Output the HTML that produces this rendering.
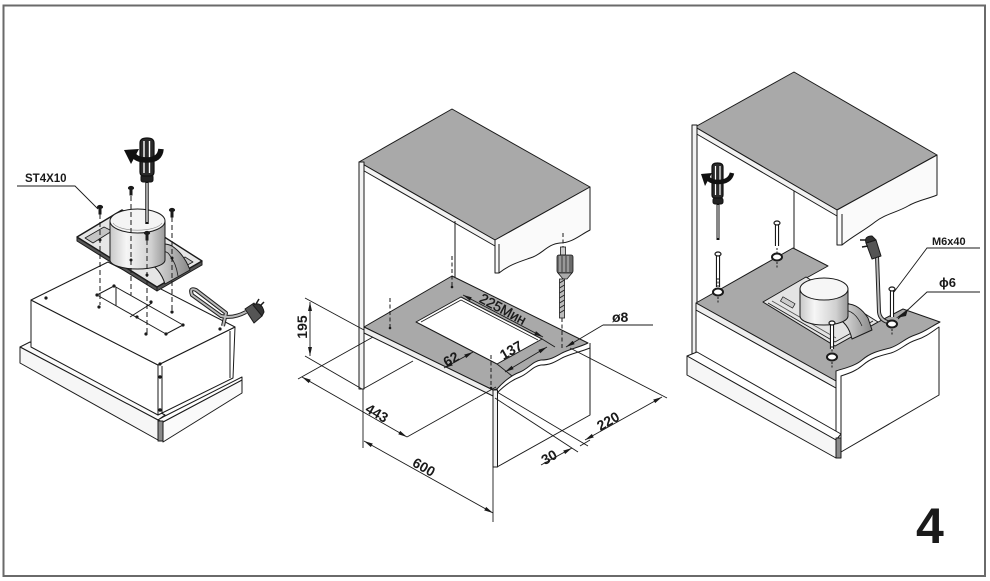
<!DOCTYPE html>
<html><head><meta charset="utf-8"><style>
html,body{margin:0;padding:0;background:#fff;}
svg{display:block;}
text{font-family:"Liberation Sans",Arial,sans-serif;fill:#1a1a1a;}
</style></head><body>
<svg width="990" height="581" viewBox="0 0 990 581" xmlns="http://www.w3.org/2000/svg">
<defs>
<marker id="ar" viewBox="0 0 10 10" refX="10" refY="5" markerWidth="9" markerHeight="9" orient="auto-start-reverse" markerUnits="userSpaceOnUse"><path d="M0,2.8 L10,5 L0,7.2 z" fill="#1a1a1a"/></marker>
<linearGradient id="cyl" x1="0" x2="1" y1="0" y2="0"><stop offset="0" stop-color="#c8c8c8"/><stop offset="0.3" stop-color="#f6f6f6"/><stop offset="0.75" stop-color="#d0d0d0"/><stop offset="1" stop-color="#9a9a9a"/></linearGradient>
<linearGradient id="chute" x1="0" x2="1"><stop offset="0" stop-color="#eee"/><stop offset="1" stop-color="#888"/></linearGradient>
</defs>
<rect x="3.5" y="5.5" width="981.5" height="570.5" fill="none" stroke="#6a6a6a" stroke-width="2"/>

<!-- ================= LEFT DIAGRAM ================= -->
<g stroke="#1a1a1a" stroke-width="1" stroke-linejoin="round" fill="none">
  <!-- trim -->
  <polygon points="20,347 30,342 165,415 158,420" fill="#fafafa"/>
  <polygon points="20,347 158,420 158,440 20,363" fill="#f6f6f6"/>
  <polygon points="163,422 242,380 242,393 163,442" fill="#fafafa"/>
  <polygon points="158,420 165,416 242,377 242,380 163,422" fill="#fff"/>
  <rect x="158" y="421" width="5" height="20" fill="#8a8a8a"/>
  <!-- box -->
  <polygon points="31,300 158,365 158,415 31,347" fill="#fff"/>
  <polygon points="158,365 235,327 233,378 158,415" fill="#fff"/>
  <polygon points="31,300 108,262 235,327 158,365" fill="#fff"/>
  <line x1="162" y1="366" x2="162" y2="414"/>
  <line x1="230" y1="331" x2="230" y2="378"/>
  <circle cx="160" cy="377" r="1.2" fill="#1a1a1a"/>
  <circle cx="160" cy="410" r="1.2" fill="#1a1a1a"/>
  <!-- cutout on top -->
  <polygon points="97,295 114,286 183,325 166,334"/>
  <line x1="116" y1="287" x2="116" y2="306"/>
  <line x1="130" y1="317" x2="152" y2="303"/>
  <!-- cord -->
  <path d="M223,326 L226,313 L196,290 Q189,287 192,295 L221,316 Q233,319 246,312" stroke="#222" stroke-width="4"/>
  <path d="M223,326 L226,313 L196,290 Q189,287 192,295 L221,316 Q233,319 246,312" stroke="#bbb" stroke-width="2"/>
  <!-- plug -->
  <polygon points="245,309 254,303 262,316 254,323" fill="#555"/>
  <path d="M253,305 Q262,301 264,312 L262,316 Z" fill="#333"/>
  <line x1="256" y1="304" x2="259" y2="299" stroke-width="1.5"/>
  <line x1="260" y1="306" x2="264" y2="302" stroke-width="1.5"/>
  <!-- bracket plate -->
  <polygon points="77,237 157,287 157,291 77,241" fill="#555"/>
  <polygon points="157,287 202,261 202,265 157,291" fill="#555"/>
  <polygon points="77,237 122,210 202,261 157,287" fill="#e6e6e6" stroke-width="1.4"/>
  <polygon points="85,238 104,227 112,231 93,243" fill="#c4c4c4" stroke-width="0.8"/>
  <polygon points="165,268 185,257 193,262 173,273" fill="#c4c4c4" stroke-width="0.8"/>
  <!-- chute -->
  <path d="M147,252 Q160,240 172,246 Q184,254 190,270 L165,284 Q160,268 147,262 Z" fill="url(#chute)"/>
  <path d="M150,256 Q160,248 168,253 Q176,262 178,276" stroke-width="0.8"/>
  <!-- cylinder -->
  <path d="M110,221 L110,260 A27.5,9 0 0 0 165,260 L165,221 Z" fill="url(#cyl)"/>
  <ellipse cx="137.5" cy="221" rx="27.5" ry="12" fill="#f4f4f4"/>
  <path d="M113,223 A25,9 0 0 0 162,223" stroke-width="0.6" stroke="#888"/>
</g>
<!-- dots left -->
<g fill="#1a1a1a">
  <circle cx="46" cy="298" r="1.6"/><circle cx="220" cy="329" r="1.6"/><circle cx="160" cy="364" r="1.6"/>
  <circle cx="99" cy="307" r="1.6"/><circle cx="114" cy="286" r="1.6"/><circle cx="97" cy="295" r="1.6"/>
  <circle cx="137" cy="317" r="1.6"/><circle cx="151" cy="302" r="1.6"/><circle cx="172" cy="312" r="1.6"/>
  <circle cx="183" cy="325" r="1.6"/><circle cx="166" cy="334" r="1.6"/><circle cx="146" cy="334" r="1.6"/>
  <circle cx="100" cy="240" r="1.5"/><circle cx="131" cy="260" r="1.5"/><circle cx="147" cy="275" r="1.5"/><circle cx="172" cy="258" r="1.5"/>
</g>
<g stroke="#1a1a1a" stroke-width="1" stroke-dasharray="5,3" fill="none">
  <line x1="100" y1="214" x2="100" y2="305"/>
  <line x1="131" y1="196" x2="131" y2="295"/>
  <line x1="147" y1="240" x2="147" y2="333"/>
  <line x1="172" y1="217" x2="172" y2="312"/>
</g>
<!-- screws left -->
<g fill="#1a1a1a" stroke="#1a1a1a">
  <ellipse cx="100" cy="207" rx="2.6" ry="1.6"/><rect x="99" y="207" width="2" height="7"/>
  <ellipse cx="131" cy="188" rx="2.6" ry="1.6"/><rect x="130" y="188" width="2" height="7"/>
  <ellipse cx="172" cy="210" rx="2.6" ry="1.6"/><rect x="171" y="210" width="2" height="7"/>
  <ellipse cx="147" cy="233" rx="2.6" ry="1.6"/><rect x="146" y="233" width="2" height="7"/>
</g>
<!-- screwdriver left -->
<g stroke="#111" stroke-linejoin="round">
  <line x1="147" y1="182" x2="147" y2="224" stroke-width="3.4"/>
  <line x1="147" y1="183" x2="147" y2="222" stroke="#fff" stroke-width="1.2"/>
  <rect x="141" y="175" width="12" height="7" rx="2" fill="#222"/>
  <path d="M140,143 Q140,138 147,138 Q154,138 154,143 L154,172 Q154,176 150,176 L144,176 Q140,176 140,172 Z" fill="#2a2a2a" stroke-width="1.2"/>
  <line x1="144" y1="141" x2="144" y2="173" stroke="#fff" stroke-width="1.4"/>
  <line x1="149.5" y1="141" x2="149.5" y2="173" stroke="#fff" stroke-width="1.4"/>
  <path d="M161,149 Q160,160 147,160 Q136,160 133,154" fill="none" stroke="#111" stroke-width="5.5"/>
  <polygon points="124,150 139,149 131,164" fill="#111" stroke="none"/>
</g>
<!-- ST4X10 -->
<text x="25" y="182" font-size="11.5" font-weight="bold">ST4X10</text>
<polyline points="17,186 75,186 98,209" fill="none" stroke="#1a1a1a" stroke-width="0.9"/>

<!-- ================= MIDDLE DIAGRAM ================= -->
<g stroke="#1a1a1a" stroke-width="1" stroke-linejoin="round" fill="none">
  <!-- top panel -->
  <polygon points="359,162 452,109 590,187 495,240" fill="#a9a9a9"/>
  <polygon points="359,162 495,240 495,246 359,168" fill="#f2f2f2"/>
  <path d="M495,240 L590,187 L590,230 C580,235 572,243 560,243 C548,244 543,253 533,257 C522,261 510,264 499,273 L495,273 Z" fill="#fafafa"/>
  <line x1="499" y1="244" x2="499" y2="273"/>
  <!-- left panel -->
  <rect x="359" y="162" width="5" height="227" fill="#f2f2f2"/>
  <line x1="455" y1="221" x2="455" y2="277"/>
  <!-- lower right face -->
  <path d="M497,393 C505,385 512,380 520,377 C528,374 533,366 541,365 C550,365 555,362 562,358 C570,354 580,352 590,348 L590,415 L497,467 Z" fill="#fff"/>
  <!-- shelf -->
  <path d="M364,327 L452,276 L588,343 C580,347 570,349 562,353 C555,357 550,360 541,360 C533,361 528,369 520,372 C512,375 505,380 497,389 L493,390 Z" fill="#a9a9a9"/>
  <polygon points="364,327 493,390 493,396 364,333" fill="#eee"/>
  <rect x="493" y="390" width="4.5" height="77" fill="#f2f2f2"/>
  <line x1="590" y1="343" x2="590" y2="349"/>
  <!-- cutout -->
  <polygon points="416,322 461,297 542,339 497,364" fill="#fff"/>
  <polyline points="421,322 461,300 538,340" stroke-width="0.8"/>
</g>
<!-- dashed -->
<g stroke="#1a1a1a" stroke-width="1" stroke-dasharray="4,2.5" fill="none">
  <line x1="390" y1="298" x2="390" y2="327"/>
  <line x1="452" y1="256" x2="452" y2="286"/>
  <line x1="491" y1="355" x2="491" y2="388"/>
  <line x1="562" y1="318" x2="562" y2="348"/>
  <line x1="563" y1="233" x2="563" y2="249"/>
</g>
<g fill="#1a1a1a"><circle cx="390" cy="328" r="1.3"/><circle cx="452" cy="287" r="1.3"/><circle cx="491" cy="388" r="1.3"/></g>
<!-- dimension lines -->
<g stroke="#1a1a1a" stroke-width="0.9" fill="none">
  <line x1="310" y1="302" x2="310" y2="356" marker-start="url(#ar)" marker-end="url(#ar)"/>
  <line x1="305" y1="298" x2="364" y2="330"/>
  <line x1="305" y1="356" x2="362" y2="389"/>
  <line x1="298" y1="379" x2="373" y2="337"/>
  <line x1="363" y1="389" x2="413" y2="361"/>
  <line x1="302" y1="377" x2="407" y2="437" marker-start="url(#ar)" marker-end="url(#ar)"/>
  <line x1="407" y1="437" x2="496" y2="387"/>
  <line x1="363" y1="389" x2="363" y2="448"/>
  <line x1="364" y1="441" x2="493" y2="513" marker-start="url(#ar)" marker-end="url(#ar)"/>
  <line x1="493" y1="467" x2="493" y2="522"/>
  <line x1="497" y1="392" x2="588" y2="446"/>
  <line x1="495" y1="398" x2="578" y2="452"/>
  <line x1="570" y1="348" x2="667" y2="398"/>
  <line x1="585" y1="440" x2="662" y2="397" marker-start="url(#ar)" marker-end="url(#ar)"/>
  <line x1="541" y1="465" x2="572" y2="448" marker-end="url(#ar)"/>
  <line x1="590" y1="440" x2="580" y2="446"/>
  <line x1="463" y1="295" x2="543" y2="337" marker-start="url(#ar)" marker-end="url(#ar)"/>
  <line x1="542" y1="339" x2="555" y2="347"/>
  <line x1="497" y1="364" x2="512" y2="376"/>
  <line x1="505" y1="372" x2="547" y2="347" marker-start="url(#ar)" marker-end="url(#ar)"/>
  <line x1="444" y1="368" x2="473" y2="352" marker-start="url(#ar)" marker-end="url(#ar)"/>
  <polyline points="653,325 603,325"/>
  <line x1="603" y1="325" x2="566" y2="347" marker-end="url(#ar)"/>
</g>
<!-- drill -->
<g stroke="#1a1a1a" stroke-width="0.8">
  <rect x="560.5" y="247" width="5" height="8" fill="#ccc"/>
  <rect x="557" y="255" width="16" height="18" rx="2" fill="#6a6a6a"/>
  <line x1="560" y1="256" x2="560" y2="272" stroke="#ddd"/>
  <line x1="564" y1="256" x2="564" y2="272" stroke="#ddd"/>
  <line x1="568" y1="256" x2="568" y2="272" stroke="#ddd"/>
  <polygon points="558,273 572,273 567,279 563,279" fill="#aaa"/>
  <rect x="559.5" y="279" width="5" height="39" fill="#bbb"/>
  <path d="M559.5,283 L564.5,280 M559.5,288 L564.5,285 M559.5,293 L564.5,290 M559.5,298 L564.5,295 M559.5,303 L564.5,300 M559.5,308 L564.5,305 M559.5,313 L564.5,310" stroke="#222" stroke-width="1"/>
</g>
<!-- middle texts -->
<text x="307" y="327" transform="rotate(-90 307 327)" text-anchor="middle" font-size="14" font-weight="bold">195</text>
<text transform="translate(377,413) rotate(30)" x="0" y="5" text-anchor="middle" font-size="14" font-weight="bold">443</text>
<text transform="translate(424,467) rotate(30)" x="0" y="5" text-anchor="middle" font-size="14" font-weight="bold">600</text>
<text transform="translate(503,309) rotate(28)" x="0" y="5" text-anchor="middle" font-size="14" stroke="#1a1a1a" stroke-width="0.35">225Мин</text>
<text transform="translate(451,359) rotate(-30)" x="0" y="5" text-anchor="middle" font-size="14" font-weight="bold">62</text>
<text transform="translate(511,350) rotate(-30)" x="0" y="5" text-anchor="middle" font-size="14" font-weight="bold">137</text>
<text transform="translate(549,457) rotate(-30)" x="0" y="5" text-anchor="middle" font-size="14" font-weight="bold">30</text>
<text transform="translate(608,421) rotate(-30)" x="0" y="5" text-anchor="middle" font-size="14" font-weight="bold">220</text>
<text x="612" y="322" font-size="14" font-weight="bold">ø8</text>

<!-- ================= RIGHT DIAGRAM ================= -->
<g stroke="#1a1a1a" stroke-width="1" stroke-linejoin="round" fill="none">
  <!-- top panel -->
  <polygon points="695,127 794,72 937,155 837,210" fill="#a9a9a9"/>
  <polygon points="695,127 837,210 837,216 695,133" fill="#f2f2f2"/>
  <path d="M837,210 L937,155 L937,195 C928,199 918,200 908,206 C898,212 885,214 875,222 C865,230 853,236 842,245 L837,245 Z" fill="#fafafa"/>
  <line x1="842" y1="214" x2="842" y2="245"/>
  <!-- left panel -->
  <rect x="692" y="125" width="5" height="230" fill="#f2f2f2"/>
  <line x1="794" y1="191" x2="794" y2="249"/>
  <!-- lower front face -->
  <polygon points="696,310 836,388 836,436 696,355" fill="#fff"/>
  <!-- lower right face -->
  <path d="M841,376 C850,373 856,371 863,365 C871,358 879,356 891,353 C901,350 906,343 916,340 C926,337 933,331 939,327 L939,395 L841,452 Z" fill="#fff"/>
  <line x1="836" y1="372" x2="836" y2="452"/>
  <line x1="841" y1="376" x2="841" y2="452"/>
  <!-- trim -->
  <polygon points="687,356 697,352 841,434 836,440" fill="#fff"/>
  <polygon points="687,356 836,440 836,458 687,375" fill="#f6f6f6"/>
  <rect x="836" y="438" width="5" height="20" fill="#8a8a8a"/>
  <!-- shelf -->
  <path d="M696,303 L793,248 L828,266 L763,302 L835,346 L880,321 L903,309 L940,322 C932,326 925,332 915,335 C905,338 900,345 890,348 C878,351 870,353 862,360 C855,366 845,368 836,371 L836,381 Z" fill="#a9a9a9"/>
  <polygon points="696,303 836,381 836,388 696,310" fill="#eee"/>
  <!-- cutout interior -->
  <polygon points="763,302 806,277 878,322 835,346" fill="#e4e4e4"/>
  <polyline points="768,303 835,342 873,321" stroke-width="0.8"/>
  <polyline points="772,301 836,338" stroke-width="0.8" stroke="#555"/>
  <rect x="781" y="300" width="14" height="5" transform="rotate(30 788 302)" fill="#ccc" stroke-width="0.7"/>
  <!-- chute -->
  <path d="M840,305 Q856,300 868,318 L872,330 L852,339 Q848,322 836,318 Z" fill="url(#chute)"/>
  <path d="M843,310 Q855,310 862,326" stroke-width="0.7"/>
  <!-- cylinder -->
  <path d="M800,289 L800,316 A24,9 0 0 0 848,316 L848,289 Z" fill="url(#cyl)"/>
  <ellipse cx="824" cy="289" rx="24" ry="11" fill="#f6f6f6"/>
  <!-- cord + plug -->
  <path d="M877,256 L879,312 Q880,321 891,323" stroke="#222" stroke-width="4"/>
  <path d="M877,256 L879,312 Q880,321 891,323" stroke="#bbb" stroke-width="2"/>
  <polygon points="866,243 876,240 881,256 872,259" fill="#555"/>
  <path d="M866,243 Q864,236 872,236 L876,240 Z" fill="#333"/>
  <line x1="866" y1="240" x2="860" y2="240" stroke-width="1.5"/>
  <line x1="868" y1="246" x2="862" y2="247" stroke-width="1.5"/>
</g>
<!-- bolts & washers right -->
<g stroke="#1a1a1a" fill="none">
  <g stroke-width="4.2"><line x1="777" y1="225" x2="777" y2="246"/><line x1="718" y1="256" x2="718" y2="287"/><line x1="832" y1="325" x2="832" y2="349"/><line x1="892" y1="291" x2="892" y2="317"/></g>
  <g stroke="#fff" stroke-width="2"><line x1="777" y1="225" x2="777" y2="246"/><line x1="718" y1="256" x2="718" y2="287"/><line x1="832" y1="325" x2="832" y2="349"/><line x1="892" y1="291" x2="892" y2="317"/></g>
  <g fill="#fff" stroke-width="1.2"><ellipse cx="777" cy="223" rx="3" ry="2"/><ellipse cx="718" cy="254" rx="3" ry="2"/><ellipse cx="832" cy="323" rx="3" ry="2"/><ellipse cx="892" cy="289" rx="3" ry="2"/></g>
  <g fill="#fff" stroke-width="2"><ellipse cx="777" cy="257" rx="5" ry="3.5"/><ellipse cx="718" cy="292" rx="5" ry="3.5"/><ellipse cx="832" cy="357" rx="5" ry="3.5"/><ellipse cx="892" cy="324" rx="5" ry="3.5"/></g>
  <g stroke-width="1" stroke-dasharray="2,1.5"><line x1="777" y1="262" x2="777" y2="269"/><line x1="718" y1="297" x2="718" y2="304"/><line x1="832" y1="362" x2="832" y2="369"/><line x1="892" y1="329" x2="892" y2="336"/><line x1="777" y1="248" x2="777" y2="253"/><line x1="718" y1="278" x2="718" y2="288"/><line x1="832" y1="346" x2="832" y2="353"/></g>
</g>
<!-- screwdriver right -->
<g stroke="#111" stroke-linejoin="round">
  <line x1="718" y1="204" x2="718" y2="240" stroke-width="3"/>
  <line x1="718" y1="205" x2="718" y2="238" stroke="#fff" stroke-width="1"/>
  <rect x="713" y="198" width="10" height="6" rx="2" fill="#222"/>
  <path d="M712,167 Q712,163 717.5,163 Q723,163 723,167 L723,195 Q723,198 720,198 L715,198 Q712,198 712,195 Z" fill="#2a2a2a" stroke-width="1.2"/>
  <line x1="715.5" y1="166" x2="715.5" y2="195" stroke="#fff" stroke-width="1.2"/>
  <line x1="720" y1="166" x2="720" y2="195" stroke="#fff" stroke-width="1.2"/>
  <path d="M732,173 Q730,182 718,182 Q710,182 707,177" fill="none" stroke="#111" stroke-width="4.5"/>
  <polygon points="701,174 712,173 705,186" fill="#111" stroke="none"/>
</g>
<!-- right labels -->
<text x="932" y="245" font-size="11" font-weight="bold">M6x40</text>
<text x="939" y="287" font-size="13" font-weight="bold">ϕ6</text>
<g stroke="#1a1a1a" stroke-width="0.9" fill="none">
  <polyline points="980,248 927,248 894,292"/>
  <polyline points="980,292 927,292 898,319"/>
</g>
<polygon points="896,318 908,309 906,316" fill="#1a1a1a"/>

<!-- page number -->
<text x="916" y="543" font-size="50" font-weight="bold" fill="#1a1a1a">4</text>
</svg>
</body></html>
